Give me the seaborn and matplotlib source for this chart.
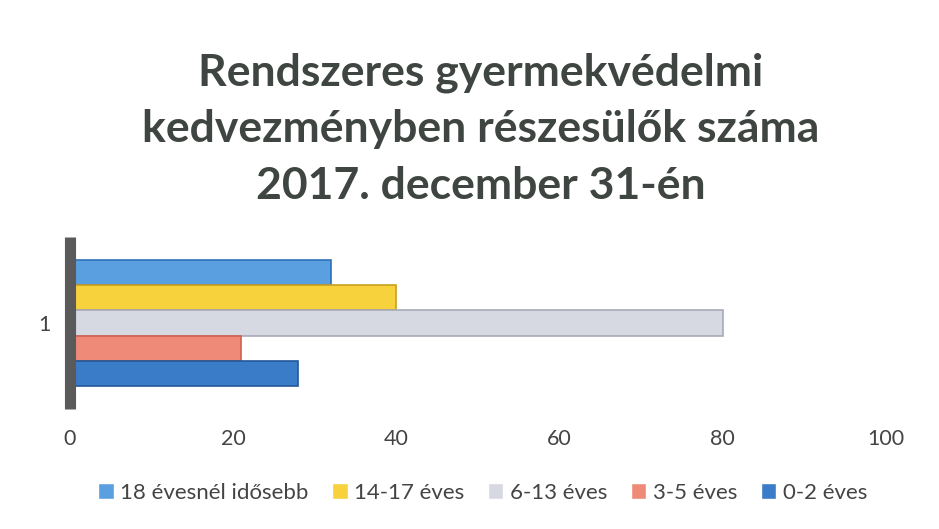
import matplotlib
matplotlib.use("Agg")
import matplotlib.pyplot as plt
import seaborn as sns
import pandas as pd

categories = ["18 évesnél idősebb", "14-17 éves", "6-13 éves", "3-5 éves", "0-2 éves"]
values = [32, 40, 80, 21, 28]
group = ["1"] * 5
colors = ["#5aa0e0", "#f8d23c", "#d6d8e2", "#f08a78", "#3a7cc8"]
edges = ["#2f6fb8", "#c9a020", "#a8aab8", "#d06050", "#24589a"]
xticks = [0, 20, 40, 60, 80, 100]
title = "Rendszeres gyermekvédelmi\nkedvezményben részesülők száma\n2017. december 31-én"

df = pd.DataFrame({"group": group, "kategoria": categories, "ertek": values})

sns.set_style("white")
plt.rcParams["font.family"] = ["Lato", "DejaVu Sans"]

fig = plt.figure(figsize=(9.39, 5.29), dpi=100)
ax = fig.add_axes([0.0745, 0.258, 0.869, 0.263])

sns.barplot(data=df, y="group", x="ertek", hue="kategoria", hue_order=categories,
            palette=colors, orient="h", dodge=True, ax=ax, width=0.9,
            saturation=1, legend=True)

for patch, ec in zip(ax.patches[:5], edges):
    patch.set_edgecolor(ec)
    patch.set_linewidth(1.2)

ax.set_xlim(0, 100)
ax.set_xticks(xticks)
ax.set_xticklabels([str(t) for t in xticks])
ax.set_xlabel("")
ax.set_ylabel("")
ax.tick_params(axis="x", labelsize=15.5, colors="#444444", pad=26, length=0)
ax.tick_params(axis="y", labelsize=15.5, colors="#444444", pad=14, length=0)
for s in ["top", "right", "bottom", "left"]:
    ax.spines[s].set_visible(False)
# back wall
ax.plot([0, 0], [-0.12, 1.12], transform=ax.get_xaxis_transform(),
        color="#5a5a5a", linewidth=8, clip_on=False, solid_capstyle="butt")

handles, labels = ax.get_legend_handles_labels()
ax.legend_.remove()
fig.legend(handles, labels, loc="center", bbox_to_anchor=(0.514, 0.068), ncol=5,
           frameon=False, fontsize=16, handlelength=0.7, handleheight=0.7,
           handletextpad=0.3, columnspacing=1.05, labelcolor="#444444")

fig.text(0.512, 0.756, title, ha="center", va="center", fontsize=32,
         fontweight="bold", color="#3f4540", linespacing=1.5)

fig.savefig("out.png", dpi=100)
